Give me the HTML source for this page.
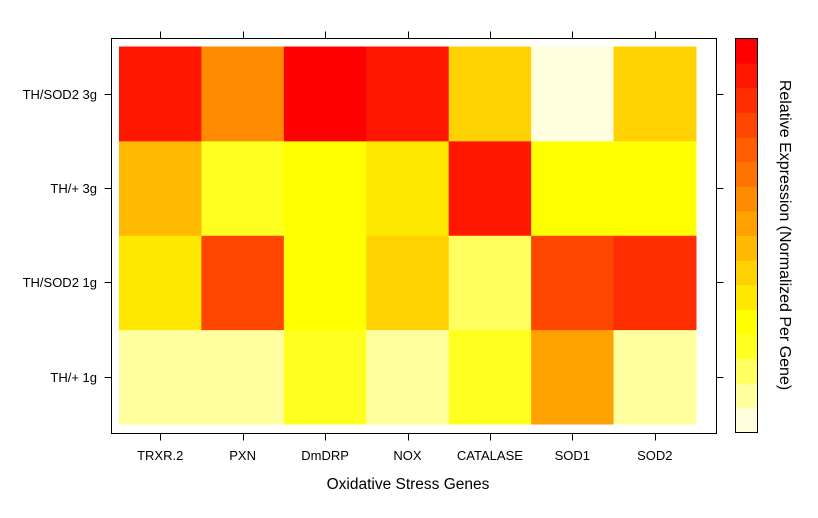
<!DOCTYPE html>
<html><head><meta charset="utf-8">
<style>
html,body{margin:0;padding:0;background:#fff;}
svg{display:block;font-family:"Liberation Sans",Arial,sans-serif;}
</style></head>
<body>
<svg id="chart" width="818" height="518" xmlns="http://www.w3.org/2000/svg"></svg>
<script>
const genes = ["TRXR.2","PXN","DmDRP","NOX","CATALASE","SOD1","SOD2"];
const groups = ["TH/+ 1g","TH/SOD2 1g","TH/+ 3g","TH/SOD2 3g"]; // bottom to top
// expression level (0 = lowest/white, 15 = highest/red)
const levelsTHplus1g   = [1,1,3,1,3,8,1];
const levelsTHSOD2_1g  = [5,12,4,6,2,12,13];
const levelsTHplus3g   = [7,3,4,5,14,4,4];
const levelsTHSOD2_3g  = [14,9,15,14,6,0,6];
const levelRows = [levelsTHplus1g, levelsTHSOD2_1g, levelsTHplus3g, levelsTHSOD2_3g];
const nLevels = 16;
const palette = ["#FFFFDF","#FFFF9F","#FFFF60","#FFFF20","#FFFF00","#FFE800","#FFD100","#FFB900","#FFA200","#FF8B00","#FF7400","#FF5D00","#FF4600","#FF2E00","#FF1700","#FF0000"];

const NS="http://www.w3.org/2000/svg";
const svg=document.getElementById('chart');
function mk(tag,attrs,parent){const e=document.createElementNS(NS,tag);for(const k in attrs)e.setAttribute(k,attrs[k]);(parent||svg).appendChild(e);return e;}

const PL=111.5, PR=716.5, PT=38.5, PB=433.5;
const cx0=119, cx1=696, cy0=46.5, cy1=424;
const colW=(cx1-cx0)/genes.length, rowH=(cy1-cy0)/groups.length;
const xCenter=i=>cx0+colW*(i+0.5);
const yCenter=j=>cy1-rowH*(j+0.5);

levelRows.forEach((row,j)=>{
  row.forEach((v,i)=>{
    const r=mk('rect',{x:cx0+colW*i,y:cy1-rowH*(j+1),width:colW+0.5,height:rowH+0.5,fill:palette[v]});
    
    
  });
});

const box=mk('rect',{x:PL,y:PT,width:PR-PL,height:PB-PT,fill:'none',stroke:'#000','stroke-width':1});



genes.forEach((g,i)=>{
  const x=Math.round(xCenter(i))+0.5;
  mk('line',{x1:x,y1:PT,x2:x,y2:PT-7,stroke:'#000'});
  mk('line',{x1:x,y1:PB,x2:x,y2:PB+7,stroke:'#000'});
  const t=mk('text',{x:xCenter(i),y:460,'font-size':13,'text-anchor':'middle',fill:'#000'});
  t.textContent=g;
  
  
});
groups.forEach((g,j)=>{
  const y=Math.round(yCenter(j))+0.5;
  mk('line',{x1:PL,y1:y,x2:PL-7,y2:y,stroke:'#000'});
  mk('line',{x1:PR,y1:y,x2:PR+7,y2:y,stroke:'#000'});
  const t=mk('text',{x:97,y:y+4.5,'font-size':13,'text-anchor':'end',fill:'#000'});
  t.textContent=g;
  
  
});

const CBL=735.5, CBR=757.5, CBT=38.5, CBB=432.5;
const binH=(CBB-CBT)/nLevels;
palette.forEach((c,k)=>{
  const r=mk('rect',{x:CBL,y:CBB-binH*(k+1),width:CBR-CBL,height:binH+0.5,fill:c});
  
  
});
const cb=mk('rect',{x:CBL,y:CBT,width:CBR-CBL,height:CBB-CBT,fill:'none',stroke:'#000'});



const ct=mk('text',{x:0,y:0,'font-size':16,'text-anchor':'middle',fill:'#000',transform:'translate(780,235) rotate(90)'});
ct.textContent='Relative Expression (Normalized Per Gene)';



const xt=mk('text',{x:408,y:489,'font-size':15.5,'text-anchor':'middle',fill:'#000'});
xt.textContent='Oxidative Stress Genes';


</script>
</body></html>
